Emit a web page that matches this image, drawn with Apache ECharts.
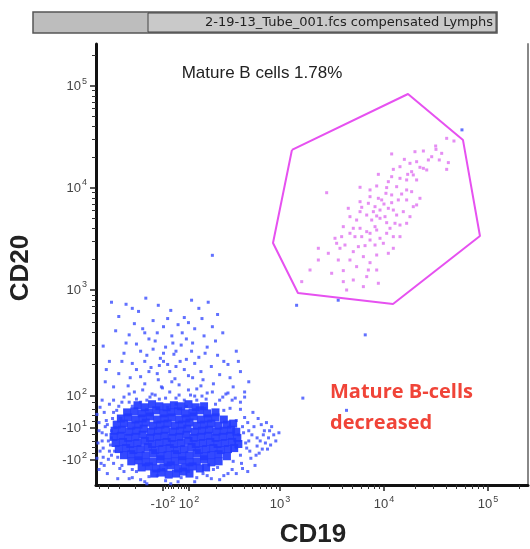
<!DOCTYPE html>
<html>
<head>
<meta charset="utf-8">
<script src="https://cdn.jsdelivr.net/npm/echarts@6/dist/echarts.min.js"></script>
<style>
  html, body { margin: 0; padding: 0; background: #fff; }
  #chart { width: 530px; height: 549px; }
</style>
</head>
<body>
<div id="chart"></div>
<script>
// values are in display units (decades on the biexponential scale, 10^3 = 3)
const xTickPos = [1.875, 2.125, 3, 4, 5];
const xTickText = ["-10|2", "10|2", "10|3", "10|4", "10|5"];
const yTickPos = [1.332, 1.646, 1.96, 3, 4, 5];
const yTickText = ["-10|2", "-10|1", "10|2", "10|3", "10|4", "10|5"];

// dense centre of the lymphocyte cloud
const blobCore = [
  [1.63,1.87],[1.70,1.85],[1.77,1.88],[1.84,1.86],[1.91,1.85],[1.98,1.87],[2.05,1.86],[2.12,1.88],[2.19,1.85],[2.27,1.86],
  [1.53,1.80],[1.60,1.81],[1.67,1.79],[1.74,1.80],[1.81,1.82],[1.88,1.79],[1.95,1.80],[2.02,1.81],[2.09,1.79],[2.16,1.80],[2.23,1.82],[2.30,1.79],[2.38,1.80],
  [1.47,1.74],[1.54,1.75],[1.61,1.73],[1.68,1.74],[1.75,1.76],[1.82,1.73],[1.89,1.74],[1.96,1.75],[2.03,1.73],[2.10,1.74],[2.17,1.76],[2.24,1.73],[2.31,1.74],[2.38,1.75],[2.46,1.73],
  [1.43,1.68],[1.50,1.69],[1.57,1.67],[1.64,1.68],[1.71,1.70],[1.78,1.67],[1.85,1.68],[1.92,1.69],[1.99,1.67],[2.06,1.68],[2.13,1.70],[2.20,1.67],[2.27,1.68],[2.34,1.69],[2.41,1.67],[2.49,1.68],[2.55,1.69],
  [1.41,1.62],[1.48,1.63],[1.55,1.61],[1.62,1.62],[1.69,1.64],[1.76,1.61],[1.83,1.62],[1.90,1.63],[1.97,1.61],[2.04,1.62],[2.11,1.64],[2.18,1.61],[2.25,1.62],[2.32,1.63],[2.39,1.61],[2.46,1.62],[2.53,1.63],[2.58,1.61],
  [1.40,1.56],[1.47,1.57],[1.54,1.55],[1.61,1.56],[1.68,1.58],[1.75,1.55],[1.82,1.56],[1.89,1.57],[1.96,1.55],[2.03,1.56],[2.10,1.58],[2.17,1.55],[2.24,1.56],[2.31,1.57],[2.38,1.55],[2.45,1.56],[2.52,1.57],[2.59,1.55],
  [1.42,1.50],[1.49,1.51],[1.56,1.49],[1.63,1.50],[1.70,1.52],[1.77,1.49],[1.84,1.50],[1.91,1.51],[1.98,1.49],[2.05,1.50],[2.12,1.52],[2.19,1.49],[2.26,1.50],[2.33,1.51],[2.40,1.49],[2.47,1.50],[2.54,1.51],[2.60,1.49],
  [1.45,1.44],[1.52,1.45],[1.59,1.43],[1.66,1.44],[1.73,1.46],[1.80,1.43],[1.87,1.44],[1.94,1.45],[2.01,1.43],[2.08,1.44],[2.15,1.46],[2.22,1.43],[2.29,1.44],[2.36,1.45],[2.43,1.43],[2.50,1.44],[2.56,1.45],
  [1.50,1.38],[1.57,1.39],[1.64,1.37],[1.71,1.38],[1.78,1.40],[1.85,1.37],[1.92,1.38],[1.99,1.39],[2.06,1.37],[2.13,1.38],[2.20,1.40],[2.27,1.37],[2.34,1.38],[2.41,1.39],[2.49,1.37],
  [1.57,1.32],[1.64,1.33],[1.71,1.31],[1.78,1.32],[1.85,1.34],[1.92,1.31],[1.99,1.32],[2.06,1.33],[2.13,1.31],[2.20,1.32],[2.27,1.34],[2.34,1.31],[2.41,1.32],
  [1.67,1.26],[1.74,1.27],[1.81,1.25],[1.88,1.26],[1.95,1.28],[2.02,1.25],[2.09,1.26],[2.16,1.27],[2.23,1.25],[2.29,1.26],
  [1.79,1.20],[1.86,1.21],[1.93,1.19],[2.00,1.20],[2.07,1.22],[2.13,1.20]
];

// scattered CD19- events around the core
const blobSparse = [
  [1.38,2.88],[1.52,2.86],[1.71,2.92],[1.83,2.85],[2.15,2.90],[2.31,2.88],[2.40,2.76],[1.45,2.74],[1.64,2.79],
  [1.95,2.80],[2.08,2.73],[2.22,2.82],[1.60,2.67],[1.78,2.70],[1.88,2.64],[2.02,2.66],[2.18,2.62],[2.35,2.64],
  [1.42,2.60],[1.55,2.56],[1.70,2.58],[1.96,2.55],[2.10,2.52],[2.27,2.55],[2.45,2.58],[1.30,2.45],[1.62,2.47],
  [1.80,2.50],[1.90,2.44],[2.05,2.46],[2.15,2.40],[2.30,2.44],[1.50,2.38],[1.72,2.36],[1.85,2.33],[1.98,2.37],
  [2.22,2.34],[2.40,2.36],[2.58,2.40],[1.36,2.30],[1.58,2.28],[1.76,2.24],[1.92,2.27],[2.08,2.22],[2.18,2.28],
  [2.34,2.25],[2.50,2.27],[1.45,2.18],[1.66,2.15],[1.82,2.18],[1.99,2.13],[2.12,2.16],[2.26,2.12],[2.42,2.17],
  [2.62,2.20],[1.32,2.10],[1.54,2.06],[1.70,2.08],[1.87,2.04],[2.03,2.07],[2.20,2.03],[2.36,2.08],[2.55,2.05],
  [2.70,2.10],[1.60,2.00],[1.77,1.98],[1.94,2.00],[2.14,1.97],[2.30,1.99],[2.48,1.98],[2.66,2.00],
  [1.68,2.62],[1.74,2.52],[1.82,2.58],[1.92,2.72],[1.97,2.48],[2.00,2.40],[2.06,2.58],[2.12,2.68],[2.16,2.48],
  [1.66,2.40],[1.78,2.42],[1.88,2.38],[1.94,2.20],[2.04,2.30],[2.24,2.20],[2.28,2.38],[1.62,2.22],[1.70,2.30],
  [1.84,2.26],[2.38,2.50],[1.52,2.48],[1.48,2.30],[2.46,2.30],[2.52,2.14],[1.40,2.05],[1.56,2.14],[2.60,2.30],
  [1.33,2.22],[2.25,2.72],[1.58,2.82],
  [1.27,1.85],[1.29,1.60],[1.30,1.45],[1.28,1.30],[1.33,1.72],[1.35,1.52],[1.34,1.20],[1.40,1.92],[1.42,1.65],
  [1.38,1.38],[1.44,1.15],[2.62,1.90],[2.66,1.75],[2.70,1.62],[2.74,1.80],[2.78,1.55],[2.82,1.68],[2.86,1.50],
  [2.90,1.62],[2.94,1.58],[2.68,1.45],[2.72,1.35],[2.80,1.40],[2.64,1.25],[2.58,1.20],[2.76,1.28],[2.88,1.44],
  [1.55,1.15],[1.70,1.12],[1.82,1.18],[1.95,1.10],[2.05,1.16],[2.18,1.12],[2.30,1.18],[2.42,1.14],[1.62,1.22],
  [1.88,1.24],[2.12,1.22],[2.36,1.24],[2.50,1.20],[1.50,1.95],[1.66,1.90],[1.84,1.93],[2.00,1.88],[2.20,1.92],
  [2.38,1.88],[2.54,1.92],[1.58,1.86],[1.92,1.85],[2.10,1.86],[2.28,1.84],[2.46,1.82],
  [1.40,1.80],[1.38,1.55],[1.36,1.42],[1.48,1.28],[1.58,1.24],[2.40,1.26],[2.55,1.32],[2.58,1.45],[2.60,1.58],
  [2.58,1.72],[2.52,1.84],[1.45,1.86],[1.55,1.90],[1.75,1.95],[2.00,1.94],[2.25,1.96],[2.45,1.95],[1.32,1.66],
  [1.47,1.74],[2.64,1.66],[2.70,1.52],[2.84,1.58],[2.92,1.66],[2.78,1.47],[2.62,1.38],[1.30,1.36],[1.25,1.50],
  [1.26,1.70],
  [1.24,1.78],[1.26,1.62],[1.27,1.42],[1.29,1.52],[1.31,1.80],[1.31,1.28],[1.33,1.58],[1.34,1.68],[1.35,1.34],
  [1.36,1.88],[1.37,1.48],[1.38,1.62],[1.39,1.74],[1.40,1.30],[1.41,1.42],[1.43,1.82],[1.44,1.36],[1.46,1.25],
  [1.48,1.90],[1.50,1.22],[1.24,1.35],[1.26,1.24],[1.29,1.92],
  [1.55,1.98],[1.62,1.93],[1.68,2.02],[1.72,1.92],[1.80,1.97],[1.86,2.05],[1.90,1.94],[1.96,2.10],[2.03,1.97],
  [2.08,1.92],[2.12,2.02],[2.18,1.96],[2.24,2.06],[2.29,1.93],[2.35,2.00],[2.42,1.92],[2.50,1.99],[2.57,1.94],
  [1.83,2.12],[2.16,2.14],[1.74,2.20],[2.00,2.25],[1.88,2.30],[2.10,2.32],
  [2.62,1.83],[2.65,1.60],[2.67,1.50],[2.69,1.70],[2.71,1.42],[2.73,1.58],[2.75,1.66],[2.77,1.38],[2.79,1.74],
  [2.81,1.52],[2.83,1.44],[2.85,1.62],[2.87,1.70],[2.89,1.55],[2.91,1.48],[2.96,1.52],[2.99,1.60],[2.63,1.30],
  [2.69,1.22],[2.66,1.95],
  [1.58,1.16],[1.66,1.14],[1.74,1.17],[1.90,1.13],[2.02,1.12],[2.20,1.16],[2.26,1.20],[2.34,1.15],[2.46,1.18],
  [2.54,1.24],[1.72,1.10],
  [2.35,3.34],[3.22,1.94],[3.64,1.82],[3.16,2.85],[3.56,2.90],[4.75,4.57],[3.82,2.56]
];

// events inside the mature B cell gate
const gated = [
  [4.603,4.487],[4.673,4.461],[4.497,4.412],[4.500,4.379],[4.379,4.363],[4.298,4.356],[4.074,4.334],[4.196,4.281],
  [4.314,4.258],[4.532,4.275],[4.619,4.249],[4.603,4.183],[4.379,4.193],[4.346,4.203],[4.266,4.160],[4.090,4.183],
  [4.228,4.134],[4.282,4.128],[4.154,4.095],[3.946,4.134],[3.770,4.007],[3.449,3.954],[4.026,4.004],[4.122,4.013],
  [4.218,3.981],[4.019,3.948],[3.866,3.915],[3.946,3.899],[4.170,3.941],[4.346,3.899],[4.138,3.883],[3.657,3.801],
  [3.786,3.811],[3.850,3.850],[4.000,3.843],[4.074,3.856],[3.962,3.784],[4.042,3.801],[4.122,3.735],[3.930,3.726],
  [3.962,3.703],[3.673,3.719],[3.737,3.686],[3.882,3.686],[4.010,3.719],[4.218,3.654],[4.154,3.637],[3.770,3.605],
  [3.834,3.572],[3.914,3.621],[4.058,3.605],[3.786,3.523],[3.545,3.458],[3.577,3.409],[3.625,3.441],[3.754,3.425],
  [3.818,3.435],[3.914,3.441],[3.369,3.409],[3.529,3.507],[3.930,3.343],[3.673,3.294],[3.866,3.268],[3.930,3.196],
  [3.850,3.196],[3.609,3.190],[3.289,3.196],[3.209,3.082],[3.609,3.082],[3.641,3.000],[3.802,3.033],[3.866,3.556],
  [4.026,3.556],[4.106,3.654],[4.090,3.523],[4.282,3.817],[4.314,3.834],[4.218,4.079],[4.427,4.275],[3.914,3.817],
  [3.705,3.605],[3.962,3.507],[3.721,3.523],[3.770,3.768],
  [4.555,4.340],[4.459,4.307],[4.250,4.242],[4.154,4.209],[4.074,4.111],[4.314,4.079],[4.411,4.177],[4.042,4.062],
  [3.930,4.020],[3.866,3.981],[4.266,3.964],[4.074,3.932],[3.978,3.883],[4.218,3.883],[3.770,3.866],[3.898,3.768],
  [4.090,3.784],[4.186,3.768],[3.834,3.735],[4.026,3.660],[3.930,3.588],[3.673,3.556],[3.593,3.523],[3.866,3.490],
  [3.994,3.458],[3.705,3.376],[3.802,3.327],[3.561,3.294],[3.737,3.229],[3.465,3.360],[3.369,3.294],[4.042,3.360],
  [3.834,3.131],[3.705,3.098],[3.497,3.164],[3.946,3.066],[4.090,3.409],[4.154,3.523],[4.250,3.719],[3.609,3.621]
];

// polygon gate vertices
const gate = [
  [3.115,4.373],[4.231,4.922],[4.760,4.470],[4.923,3.529],[4.087,2.863],[3.173,2.970],[2.933,3.461],[3.115,4.373]
];

const xMin = 1.231, xMax = 5.385;
const yMin = 1.088, yMax = 5.412;

const L10 = Math.log10;
const xMinor = [], yMinor = [];
for (let k = 2; k <= 9; k++) {
  xMinor.push(2.125 + 0.875 * L10(k), 3 + L10(k), 4 + L10(k));
  yMinor.push(1.96 + 1.04 * L10(k), 3 + L10(k), 4 + L10(k));
}
xMinor.push(5 + L10(2));
yMinor.push(5 + L10(2));
for (let k = 2; k <= 5; k++) xMinor.push(1.875 - 0.875 * L10(k));
for (let v = 20; v <= 80; v += 20) {
  xMinor.push(2 + 0.125 * v / 100, 2 - 0.125 * v / 100);
  yMinor.push(1.646 + 0.314 * v / 100, 1.646 - 0.314 * v / 100);
}

function tickLabel(pos, text) {
  return (v) => {
    let i = pos.findIndex((p) => Math.abs(p - v) < 1e-6);
    if (i < 0) return "";
    let [b, s] = text[i].split("|");
    return "{b|" + b + "}{s|" + s + "}";
  };
}
const rich = {
  b: { fontSize: 13, color: "#444", fontFamily: "Liberation Sans" },
  s: { fontSize: 9, color: "#444", fontFamily: "Liberation Sans", padding: [0, 0, 10, 1] }
};

const chart = echarts.init(document.getElementById("chart"));
chart.setOption({
  animation: false,
  backgroundColor: "#fff",
  grid: { left: 96, top: 44, right: 2, bottom: 64 },
  xAxis: [
    {
      type: "value", min: xMin, max: xMax, position: "bottom",
      axisLine: { lineStyle: { color: "#111", width: 3 } },
      axisTick: { customValues: xTickPos, length: 6, lineStyle: { color: "#222", width: 1.5 } },
      axisLabel: { customValues: xTickPos, formatter: tickLabel(xTickPos, xTickText), rich, margin: 10, hideOverlap: false },
      splitLine: { show: false }
    },
    {
      type: "value", min: xMin, max: xMax, position: "bottom",
      axisLine: { show: false },
      axisTick: { customValues: xMinor, length: 4, lineStyle: { color: "#333", width: 1 } },
      axisLabel: { show: false },
      splitLine: { show: false }
    }
  ],
  yAxis: [
    {
      type: "value", min: yMin, max: yMax, position: "left",
      axisLine: { lineStyle: { color: "#111", width: 3 } },
      axisTick: { customValues: yTickPos, length: 6, lineStyle: { color: "#222", width: 1.5 } },
      axisLabel: { customValues: yTickPos, formatter: tickLabel(yTickPos, yTickText), rich, margin: 9, hideOverlap: false },
      splitLine: { show: false }
    },
    {
      type: "value", min: yMin, max: yMax, position: "left",
      axisLine: { show: false },
      axisTick: { customValues: yMinor, length: 4, lineStyle: { color: "#333", width: 1 } },
      axisLabel: { show: false },
      splitLine: { show: false }
    },
    {
      type: "value", min: yMin, max: yMax, position: "right",
      axisLine: { lineStyle: { color: "#888", width: 2 } },
      axisTick: { show: false }, axisLabel: { show: false }, splitLine: { show: false }
    }
  ],
  series: [
    {
      type: "scatter", data: blobSparse, symbol: "rect", symbolSize: 3,
      itemStyle: { color: "#3a4dff", opacity: 0.8 }, silent: true
    },
    {
      type: "scatter", data: blobCore, symbol: "rect", symbolSize: 8,
      itemStyle: { color: "#2239ff", opacity: 0.92 }, silent: true
    },
    {
      type: "scatter", data: gated, symbol: "rect", symbolSize: 3,
      itemStyle: { color: "#e488f2", opacity: 0.95 }, silent: true
    },
    {
      type: "line", data: gate, symbol: "none", z: 5,
      lineStyle: { color: "#e651f0", width: 2 }, silent: true
    }
  ],
  graphic: [
    { type: "rect", shape: { x: 33, y: 12, width: 464, height: 21 },
      style: { fill: "#bdbdbd", stroke: "#555", lineWidth: 1.5 } },
    { type: "rect", shape: { x: 148, y: 13, width: 348, height: 19 },
      style: { fill: "#c9c9c9", stroke: "#444", lineWidth: 1 } },
    { type: "text", x: 493, y: 23,
      style: { text: "2-19-13_Tube_001.fcs compensated Lymphs", fill: "#222", font: "13px 'DejaVu Sans'",
        align: "right", verticalAlign: "middle" } },
    { type: "text", x: 262, y: 73,
      style: { text: "Mature B cells 1.78%", fill: "#222", font: "17px 'Liberation Sans'",
        align: "center", verticalAlign: "middle" } },
    { type: "text", x: 330, y: 392,
      style: { text: "Mature B-cells", fill: "#f04438", font: "bold 20px 'Open Sans'",
        align: "left", verticalAlign: "middle" } },
    { type: "text", x: 330, y: 423,
      style: { text: "decreased", fill: "#f04438", font: "bold 20px 'Open Sans'",
        align: "left", verticalAlign: "middle" } },
    { type: "text", x: 313, y: 535,
      style: { text: "CD19", fill: "#222", font: "bold 26px 'Liberation Sans'",
        align: "center", verticalAlign: "middle" } },
    { type: "text", x: 21, y: 268, rotation: Math.PI / 2,
      style: { text: "CD20", fill: "#222", font: "bold 26px 'Liberation Sans'",
        align: "center", verticalAlign: "middle" } }
  ]
});
</script>
</body>
</html>
